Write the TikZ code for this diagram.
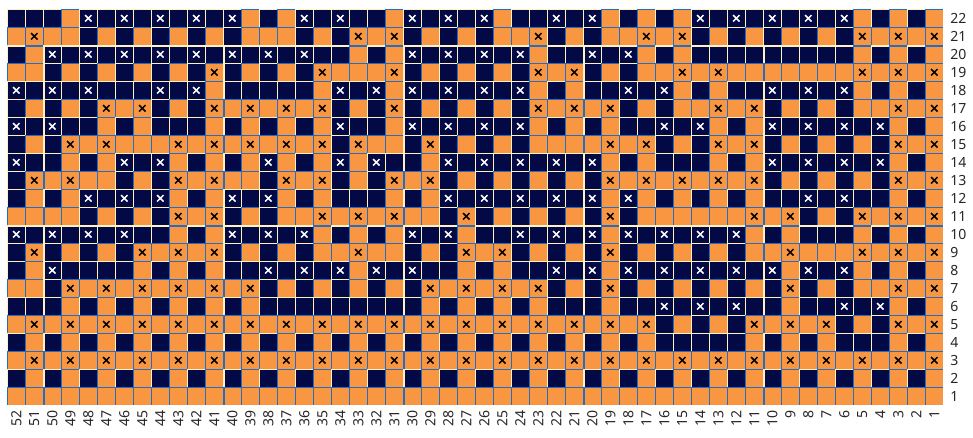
\documentclass[tikz,border=0pt]{standalone}
\usepackage{fontspec}
\setmainfont{Noto Sans}

\definecolor{yarnorange}{RGB}{248,150,66}
\definecolor{yarnnavy}{RGB}{2,9,68}
\definecolor{lineblue}{RGB}{33,110,196}
\definecolor{linecream}{RGB}{255,242,190}

\newcount\stitchcol
\newcount\stitchrow

% one chart row: row index from the top, then one letter per stitch
% o = orange, O = orange with cross, n = navy, N = navy with cross
\def\chartrow#1#2{\stitchrow=#1\relax\stitchcol=0\relax\readstitch#2\relax}
\def\readstitch#1{%
  \ifx#1\relax\else
    \csname stitch#1\endcsname
    \advance\stitchcol by 1\relax
    \expandafter\readstitch
  \fi}

\def\knitcell#1#2#3{%
  \pgfmathsetmacro\cellx{7.3+18*\the\stitchcol}%
  \pgfmathsetmacro\celly{9.3+18*\the\stitchrow}%
  \pgfmathtruncatemacro\colmod{mod(\the\stitchcol,10)}%
  \def\gapl{0.7}\def\gapr{0.7}\def\gapt{0.7}\def\gapb{0.7}%
  % wider edge after every tenth stitch and row
  \ifnum\stitchrow>1 \ifnum\colmod=2 \def\gapl{2.1}\fi\fi
  \ifnum\stitchrow=2 \def\gapt{2.1}\fi
  \ifnum\stitchrow=12 \def\gapt{2.1}\fi
  \fill[#2] (\cellx,\celly) rectangle ++(18,18);
  \fill[#1] ({\cellx+\gapl},{\celly+\gapt}) rectangle ({\cellx+18-\gapr},{\celly+18-\gapb});
  \if\relax\detokenize{#3}\relax\else
    \draw[#3, line width=1.1pt] ({\cellx+5.8},{\celly+5.8}) -- ++(6.4,6.4)
      ({\cellx+5.8},{\celly+12.2}) -- ++(6.4,-6.4);
  \fi}

\def\stitcho{\knitcell{yarnorange}{lineblue}{}}
\def\stitchO{\knitcell{yarnorange}{lineblue}{black}}
\def\stitchn{\knitcell{yarnnavy}{linecream}{}}
\def\stitchN{\knitcell{yarnnavy}{linecream}{white}}

\begin{document}
\begin{tikzpicture}[x=0.75pt, y=-0.75pt]
	\tikzstyle{rowlabel} =[anchor=west, inner sep=0pt, text=black!85, font=\fontsize{10.5}{12}\selectfont];
	\tikzstyle{collabel} =[anchor=east, rotate=90, inner sep=0pt, text=black!85, font=\fontsize{10.5}{12}\selectfont];
	\useasboundingbox (0,0) rectangle (973,437);

	\chartrow{0}{n n n o N n N n N n N n N o n o N n  N n n o N n N n N o n n N n N o n o  n o N n N n N n N n N o n o n o}
	\chartrow{1}{o O o o n o n o n o n o n o o o n o  n O o O n o n o n o o O n o n o o O  o O n o n o n o n o n O o O o O}
	\chartrow{2}{n o N n N n N n N n N n N n N n N n  n o n o N n N n N n N o n n N n N o  n o n n n n n n n n n o n o n o}
	\chartrow{3}{o o n o n o n o n o n O n o n o n O  o o o O n o n o n o n O o O n o n o  o O o O o o o o o o o O o O o O}
	\chartrow{4}{N n N n N n n n N n N o n n n n n o  N n N o N n N n N n N o n o n n N n  N o n o n n N n N n N o n o n o}
	\chartrow{5}{n o n o n O o O n o n O o O o O o O  n o n O n o n o n o n O o O o O n o  n o o O o O n o n o n o o O o O}
	\chartrow{6}{N n N n n o n o n n n o n o n o n o  N n n o N n N n N n N o n o n o n n  N n N o n o N n N n N n N o n o}
	\chartrow{7}{n o n O o O o o o O o O o O o O o O  n O o o n O n o n o n o o o o O o O  n o n O o O n o n o n o n O o O}
	\chartrow{8}{N n n o n o N n N o n o n o N o n o  N o N n n o N n N n N n N n N o n o  n n n o n o N n N n N n N o n o}
	\chartrow{9}{n O o O o o n o n O o O o o n O o O  n o n O o O n o n o n o n o n O o O  o O o O o O n o n o n o n O o O}
	\chartrow{10}{n o n o N n N n N o n o N n N o n o  n n n o n o N n N n N n N n N o N o  n o n o n o n n N n N n n o n o}
	\chartrow{11}{o o o o n o n o n O o O n o n o o O  o O o O o o n O n o n o n o n O n o  o o o o o O o O n o n O o O o O}
	\chartrow{12}{N n N n N n N n n o n o N n N n N o  n o n o N n N o n n N n N n N o N n  N n N n N o n o n n n o n o n o}
	\chartrow{13}{n O n o n o n O o O o O n o n o n o  o O o o n o n O o O n o n o n O n o  n o n o n o o O o o o O o O o O}
	\chartrow{14}{n o N n n n n o n o n o n n N n N n  N o N n N n n o n o n n N n N o N n  N n N n N n N o N n N o n o n o}
	\chartrow{15}{o o n O o O o O o O o O o O n o n o  n o n o n O o O o O o O n o n O n o  n o n o n o n O n o n o o O o O}
	\chartrow{16}{n n n o n o n o n o n o n o n n n n  n n n n n o n o n o n o n n n o n n  N n N n N n n o n n N n N o n o}
	\chartrow{17}{o O o O o O o O o O o O o O o O o O  o O o O o O o O o O o O o O o O o O  n o n o n O o O o O n o n O o O}
	\chartrow{18}{n o n o n o n o n o n o n o n o n o  n o n o n o n o n o n o n o n o n o  n n n n n o n o n o n n n o n o}
	\chartrow{19}{o O o O o O o O o O o O o O o O o O  o O o O o O o O o O o O o O o O o O  o O o O o O o O o O o O o O o O}
	\chartrow{20}{n o n o n o n o n o n o n o n o n o  n o n o n o n o n o n o n o n o n o  n o n o n o n o n o n o n o n o}
	\chartrow{21}{o o o o o o o o o o o o o o o o o o  o o o o o o o o o o o o o o o o o o  o o o o o o o o o o o o o o o o}

	\foreach \k in {1,...,22}
		\node[rowlabel] (rownum\k) at (950,{18.3+18*(22-\k)}) {\k};
	\foreach \k in {1,...,52}
		\node[collabel] (colnum\k) at ({16.3+18*(52-\k)},410) {\k};
\end{tikzpicture}
\end{document}
